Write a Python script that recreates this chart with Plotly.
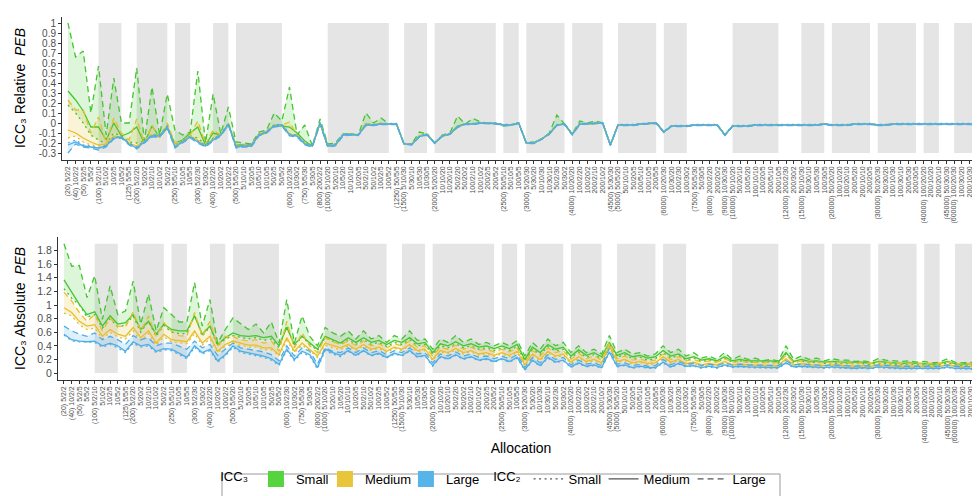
import plotly.graph_objects as go

FONT = "Liberation Sans, Arial, sans-serif"

TICK_LABELS = [
    "(20) 5/2/2", "(40) 10/2/2", "(50) 5/2/5", "5/5/2", "(100) 5/2/10", "5/10/2", "10/2/5", "10/5/2",
    "(125) 5/5/5", "(200) 5/2/20", "5/20/2", "10/2/10", "10/10/2", "50/2/2", "(250) 5/5/10", "5/10/5",
    "10/5/5", "(300) 5/2/30", "5/30/2", "(400) 10/2/20", "10/20/2", "100/2/2", "(500) 5/5/20", "5/10/10",
    "5/20/5", "10/5/10", "10/10/5", "50/2/5", "50/5/2", "(600) 10/2/30", "10/30/2", "(750) 5/5/30",
    "5/30/5", "(800) 200/2/2", "(1000) 5/10/20", "5/20/10", "10/5/20", "10/10/10", "10/20/5", "50/2/10",
    "50/10/2", "100/2/5", "100/5/2", "(1250) 50/5/5", "(1500) 5/10/30", "5/30/10", "10/5/30", "10/30/5",
    "(2000) 5/20/20", "10/10/20", "10/20/10", "50/2/20", "50/20/2", "100/2/10", "100/10/2", "200/2/5",
    "200/5/2", "(2500) 50/5/10", "50/10/5", "100/5/5", "(3000) 5/20/30", "5/30/20", "10/10/30", "10/30/10",
    "50/2/30", "50/30/2", "(4000) 10/20/20", "100/2/20", "100/20/2", "200/2/10", "200/10/2", "(4500) 5/30/30",
    "(5000) 50/5/20", "50/10/10", "50/20/5", "100/5/10", "100/10/5", "200/5/5", "(6000) 10/20/30", "10/30/20",
    "100/2/30", "100/30/2", "(7500) 50/5/30", "50/30/5", "(8000) 200/2/20", "200/20/2", "(9000) 10/30/30",
    "(10000) 50/10/20", "50/20/10", "100/5/20", "100/10/10", "100/20/5", "200/5/10", "200/10/5",
    "(12000) 200/2/30", "200/30/2", "(15000) 50/10/30", "50/30/10", "100/5/30", "100/30/5",
    "(20000) 50/20/20", "100/10/20", "100/20/10", "200/5/20", "200/10/10", "200/20/5",
    "(30000) 50/20/30", "50/30/20", "100/10/30", "100/30/10", "200/5/30", "200/30/5",
    "(40000) 100/20/20", "200/10/20", "200/20/10", "(45000) 50/30/30",
    "(60000) 100/20/30", "100/30/20", "200/10/30", "200/30/10",
]

# ---------------- Relative PEB (top panel) ----------------
# naming: rel_<ICC3 size>_<ICC2 size>, s/m/l = Small/Medium/Large
rel_s_s = [
    0.18, 0.1, 0.0, -0.12, -0.17, -0.21, -0.1, -0.13, -0.19, -0.2,
    -0.18, -0.11, -0.12, -0.03, -0.22, -0.18, -0.13, -0.15, -0.22, -0.15,
    -0.12, -0.01, -0.24, -0.23, -0.23, -0.12, -0.09, -0.03, -0.02, -0.12,
    -0.13, -0.21, -0.23, 0.0, -0.23, -0.22, -0.12, -0.115, -0.12, -0.02,
    -0.02, -0.01, -0.01, -0.01, -0.21, -0.215, -0.135, -0.115, -0.2, -0.13,
    -0.11, -0.04, -0.01, -0.01, 0.0, 0.0, -0.005, -0.02, -0.02, 0.0,
    -0.2, -0.2, -0.16, -0.11, -0.02, -0.01, -0.115, -0.01, -0.005, 0.0,
    0.0, -0.22, -0.02, -0.02, -0.02, -0.01, -0.005, 0.0, -0.09, -0.03,
    -0.03, -0.03, -0.02, -0.02, -0.02, -0.02, -0.12, -0.03, -0.03, -0.03,
    -0.02, -0.02, -0.02, -0.02, -0.02, -0.02, -0.02, -0.02, -0.02, -0.01,
    -0.02, -0.02, -0.02, -0.01, -0.01, -0.01, -0.02, -0.02, -0.01, -0.01,
    -0.01, -0.01, -0.01, -0.01, -0.01, -0.01, -0.01, -0.01, -0.01, -0.01,
]
rel_s_m = [
    0.32, 0.23, 0.12, -0.04, -0.04, -0.17, 0.0, -0.13, -0.1, -0.04,
    -0.2, -0.03, -0.14, -0.05, -0.2, -0.17, -0.1, -0.04, -0.22, -0.1,
    -0.12, -0.02, -0.22, -0.22, -0.22, -0.12, -0.1, -0.02, -0.03, -0.04,
    -0.1, -0.18, -0.23, 0.0, -0.23, -0.22, -0.12, -0.11, -0.12, -0.01,
    -0.02, -0.01, -0.01, -0.01, -0.21, -0.21, -0.13, -0.11, -0.2, -0.13,
    -0.11, -0.03, -0.01, -0.01, 0.0, 0.0, -0.005, -0.02, -0.02, 0.0,
    -0.2, -0.2, -0.16, -0.11, -0.02, -0.01, -0.115, -0.01, -0.005, 0.0,
    0.0, -0.22, -0.02, -0.02, -0.02, -0.01, -0.005, 0.0, -0.09, -0.03,
    -0.03, -0.03, -0.02, -0.02, -0.02, -0.02, -0.12, -0.03, -0.03, -0.03,
    -0.02, -0.02, -0.02, -0.02, -0.02, -0.02, -0.02, -0.02, -0.02, -0.01,
    -0.02, -0.02, -0.02, -0.01, -0.01, -0.01, -0.02, -0.02, -0.01, -0.01,
    -0.01, -0.01, -0.01, -0.01, -0.01, -0.01, -0.01, -0.01, -0.01, -0.01,
]
rel_s_l = [
    1.0, 0.66, 0.72, 0.1, 0.57, -0.12, 0.45, 0.0, 0.0, 0.55,
    -0.18, 0.36, -0.12, 0.29, -0.07, -0.12, -0.09, 0.52, -0.2, 0.29,
    -0.11, 0.16, -0.19, -0.2, -0.21, -0.09, -0.07, 0.1, 0.02, 0.36,
    -0.12, -0.02, -0.23, 0.04, -0.21, -0.2, -0.11, -0.11, -0.12, 0.1,
    0.0, 0.05, -0.01, -0.01, -0.21, -0.21, -0.09, -0.11, -0.2, -0.12,
    -0.1, 0.07, -0.01, 0.045, 0.01, 0.0, -0.005, -0.03, -0.02, 0.0,
    -0.2, -0.19, -0.16, -0.1, 0.08, -0.01, -0.11, 0.02, 0.0, 0.02,
    0.0, -0.22, -0.02, -0.02, -0.02, -0.01, -0.005, 0.0, -0.09, -0.03,
    -0.03, -0.03, -0.02, -0.02, -0.02, -0.02, -0.12, -0.03, -0.03, -0.03,
    -0.02, -0.02, -0.02, -0.02, -0.02, -0.02, -0.02, -0.02, -0.02, -0.01,
    -0.02, -0.02, -0.02, -0.01, -0.01, -0.01, -0.02, -0.02, -0.01, -0.01,
    -0.01, -0.01, -0.01, -0.01, -0.01, -0.01, -0.01, -0.01, -0.01, -0.01,
]
rel_m_s = [
    -0.15, -0.13, -0.19, -0.22, -0.23, -0.22, -0.14, -0.15, -0.21, -0.24,
    -0.18, -0.13, -0.13, -0.04, -0.24, -0.19, -0.14, -0.18, -0.23, -0.17,
    -0.12, -0.01, -0.24, -0.23, -0.23, -0.12, -0.09, -0.03, -0.02, -0.12,
    -0.13, -0.21, -0.23, 0.0, -0.23, -0.22, -0.12, -0.115, -0.12, -0.02,
    -0.02, -0.01, -0.01, -0.01, -0.21, -0.215, -0.135, -0.115, -0.2, -0.13,
    -0.11, -0.04, -0.01, -0.01, 0.0, 0.0, -0.005, -0.02, -0.02, 0.0,
    -0.2, -0.2, -0.16, -0.11, -0.02, -0.01, -0.115, -0.01, -0.005, 0.0,
    0.0, -0.22, -0.02, -0.02, -0.02, -0.01, -0.005, 0.0, -0.09, -0.03,
    -0.03, -0.03, -0.02, -0.02, -0.02, -0.02, -0.12, -0.03, -0.03, -0.03,
    -0.02, -0.02, -0.02, -0.02, -0.02, -0.02, -0.02, -0.02, -0.02, -0.01,
    -0.02, -0.02, -0.02, -0.01, -0.01, -0.01, -0.02, -0.02, -0.01, -0.01,
    -0.01, -0.01, -0.01, -0.01, -0.01, -0.01, -0.01, -0.01, -0.01, -0.01,
]
rel_m_m = [
    -0.07, -0.1, -0.15, -0.19, -0.22, -0.21, -0.13, -0.14, -0.2, -0.23,
    -0.18, -0.12, -0.13, -0.03, -0.23, -0.19, -0.13, -0.17, -0.23, -0.16,
    -0.12, -0.01, -0.24, -0.23, -0.23, -0.12, -0.09, -0.03, -0.02, -0.11,
    -0.13, -0.21, -0.23, 0.0, -0.23, -0.22, -0.12, -0.115, -0.12, -0.02,
    -0.02, -0.01, -0.01, -0.01, -0.21, -0.215, -0.135, -0.115, -0.2, -0.13,
    -0.11, -0.04, -0.01, -0.01, 0.0, 0.0, -0.005, -0.02, -0.02, 0.0,
    -0.2, -0.2, -0.16, -0.11, -0.02, -0.01, -0.115, -0.01, -0.005, 0.0,
    0.0, -0.22, -0.02, -0.02, -0.02, -0.01, -0.005, 0.0, -0.09, -0.03,
    -0.03, -0.03, -0.02, -0.02, -0.02, -0.02, -0.12, -0.03, -0.03, -0.03,
    -0.02, -0.02, -0.02, -0.02, -0.02, -0.02, -0.02, -0.02, -0.02, -0.01,
    -0.02, -0.02, -0.02, -0.01, -0.01, -0.01, -0.02, -0.02, -0.01, -0.01,
    -0.01, -0.01, -0.01, -0.01, -0.01, -0.01, -0.01, -0.01, -0.01, -0.01,
]
rel_m_l = [
    0.23, 0.13, 0.13, -0.1, 0.06, -0.2, 0.05, -0.1, -0.17, 0.04,
    -0.2, -0.02, -0.15, 0.0, -0.2, -0.18, -0.12, 0.02, -0.21, -0.07,
    -0.12, 0.0, -0.22, -0.22, -0.22, -0.11, -0.08, -0.02, -0.02, 0.01,
    -0.12, -0.2, -0.23, 0.0, -0.23, -0.22, -0.12, -0.11, -0.12, 0.0,
    -0.02, 0.0, -0.01, -0.01, -0.21, -0.21, -0.13, -0.11, -0.2, -0.13,
    -0.11, -0.04, -0.01, -0.01, 0.0, 0.0, -0.005, -0.02, -0.02, 0.0,
    -0.2, -0.2, -0.16, -0.11, -0.02, -0.01, -0.115, -0.01, -0.005, 0.0,
    0.0, -0.22, -0.02, -0.02, -0.02, -0.01, -0.005, 0.0, -0.09, -0.03,
    -0.03, -0.03, -0.02, -0.02, -0.02, -0.02, -0.12, -0.03, -0.03, -0.03,
    -0.02, -0.02, -0.02, -0.02, -0.02, -0.02, -0.02, -0.02, -0.02, -0.01,
    -0.02, -0.02, -0.02, -0.01, -0.01, -0.01, -0.02, -0.02, -0.01, -0.01,
    -0.01, -0.01, -0.01, -0.01, -0.01, -0.01, -0.01, -0.01, -0.01, -0.01,
]
rel_l_s = [
    -0.2, -0.17, -0.22, -0.23, -0.25, -0.22, -0.14, -0.14, -0.2, -0.24,
    -0.18, -0.12, -0.12, -0.03, -0.23, -0.18, -0.13, -0.18, -0.22, -0.16,
    -0.11, 0.0, -0.23, -0.22, -0.22, -0.11, -0.08, -0.02, -0.01, -0.11,
    -0.12, -0.2, -0.22, 0.01, -0.22, -0.21, -0.11, -0.11, -0.115, -0.015,
    -0.015, -0.005, -0.005, -0.005, -0.205, -0.21, -0.13, -0.11, -0.195, -0.125,
    -0.105, -0.035, -0.005, -0.005, 0.005, 0.005, 0.0, -0.015, -0.015, 0.005,
    -0.195, -0.195, -0.155, -0.105, -0.015, -0.005, -0.11, -0.005, 0.0, 0.005,
    0.005, -0.215, -0.015, -0.015, -0.015, -0.005, 0.0, 0.005, -0.085, -0.025,
    -0.025, -0.025, -0.015, -0.015, -0.015, -0.015, -0.115, -0.025, -0.025, -0.025,
    -0.015, -0.015, -0.015, -0.015, -0.015, -0.015, -0.015, -0.015, -0.015, -0.005,
    -0.015, -0.015, -0.015, -0.005, -0.005, -0.005, -0.015, -0.015, -0.005, -0.005,
    -0.005, -0.005, -0.005, -0.005, -0.005, -0.005, -0.005, -0.005, -0.005, -0.005,
]
rel_l_m = [
    -0.22, -0.19, -0.23, -0.24, -0.25, -0.23, -0.15, -0.14, -0.21, -0.25,
    -0.19, -0.13, -0.13, -0.04, -0.24, -0.19, -0.14, -0.19, -0.23, -0.17,
    -0.12, -0.01, -0.24, -0.23, -0.23, -0.12, -0.09, -0.03, -0.02, -0.12,
    -0.13, -0.21, -0.23, 0.0, -0.23, -0.22, -0.12, -0.115, -0.12, -0.02,
    -0.02, -0.01, -0.01, -0.01, -0.21, -0.215, -0.135, -0.115, -0.2, -0.13,
    -0.11, -0.04, -0.01, -0.01, 0.0, 0.0, -0.005, -0.02, -0.02, 0.0,
    -0.2, -0.2, -0.16, -0.11, -0.02, -0.01, -0.115, -0.01, -0.005, 0.0,
    0.0, -0.22, -0.02, -0.02, -0.02, -0.01, -0.005, 0.0, -0.09, -0.03,
    -0.03, -0.03, -0.02, -0.02, -0.02, -0.02, -0.12, -0.03, -0.03, -0.03,
    -0.02, -0.02, -0.02, -0.02, -0.02, -0.02, -0.02, -0.02, -0.02, -0.01,
    -0.02, -0.02, -0.02, -0.01, -0.01, -0.01, -0.02, -0.02, -0.01, -0.01,
    -0.01, -0.01, -0.01, -0.01, -0.01, -0.01, -0.01, -0.01, -0.01, -0.01,
]
rel_l_l = [
    -0.3, -0.21, -0.24, -0.25, -0.27, -0.24, -0.16, -0.15, -0.22, -0.26,
    -0.2, -0.14, -0.14, -0.05, -0.25, -0.2, -0.15, -0.2, -0.24, -0.18,
    -0.13, -0.02, -0.25, -0.24, -0.24, -0.13, -0.1, -0.04, -0.03, -0.13,
    -0.14, -0.22, -0.24, -0.01, -0.24, -0.23, -0.13, -0.12, -0.125, -0.025,
    -0.025, -0.015, -0.015, -0.015, -0.215, -0.22, -0.14, -0.12, -0.205, -0.135,
    -0.115, -0.045, -0.015, -0.015, -0.005, -0.005, -0.01, -0.025, -0.025, -0.005,
    -0.205, -0.205, -0.165, -0.115, -0.025, -0.015, -0.12, -0.015, -0.01, -0.005,
    -0.005, -0.225, -0.025, -0.025, -0.025, -0.015, -0.01, -0.005, -0.095, -0.035,
    -0.035, -0.035, -0.025, -0.025, -0.025, -0.025, -0.125, -0.035, -0.035, -0.035,
    -0.025, -0.025, -0.025, -0.025, -0.025, -0.025, -0.025, -0.025, -0.025, -0.015,
    -0.025, -0.025, -0.025, -0.015, -0.015, -0.015, -0.025, -0.025, -0.015, -0.015,
    -0.015, -0.015, -0.015, -0.015, -0.015, -0.015, -0.015, -0.015, -0.015, -0.015,
]

# ---------------- Absolute PEB (bottom panel) ----------------
abs_s_s = [
    1.24, 1.1, 1.0, 0.82, 0.86, 0.66, 0.8, 0.68, 0.7, 0.84,
    0.6, 0.76, 0.54, 0.7, 0.6, 0.58, 0.58, 0.86, 0.54, 0.68,
    0.4, 0.5, 0.55, 0.52, 0.5, 0.52, 0.48, 0.5, 0.37, 0.7,
    0.39, 0.54, 0.42, 0.33, 0.52, 0.47, 0.42, 0.49, 0.42, 0.49,
    0.42, 0.45, 0.39, 0.45, 0.42, 0.49, 0.4, 0.42, 0.27, 0.4,
    0.37, 0.43, 0.37, 0.4, 0.35, 0.37, 0.33, 0.37, 0.33, 0.39,
    0.17, 0.35, 0.27, 0.39, 0.32, 0.35, 0.22, 0.31, 0.23, 0.27,
    0.21, 0.42, 0.23, 0.27, 0.21, 0.23, 0.19, 0.21, 0.3, 0.22,
    0.26, 0.19, 0.22, 0.17, 0.19, 0.16, 0.22, 0.16, 0.18, 0.16,
    0.16, 0.15, 0.16, 0.14, 0.28, 0.15, 0.18, 0.15, 0.16, 0.14,
    0.15, 0.14, 0.14, 0.13, 0.14, 0.12, 0.15, 0.14, 0.13, 0.12,
    0.13, 0.12, 0.12, 0.11, 0.12, 0.15, 0.12, 0.11, 0.12, 0.1,
]
abs_s_m = [
    1.37, 1.18, 1.01, 0.86, 0.9, 0.69, 0.84, 0.72, 0.74, 0.86,
    0.64, 0.76, 0.57, 0.72, 0.64, 0.62, 0.62, 0.84, 0.57, 0.69,
    0.42, 0.52, 0.59, 0.55, 0.54, 0.55, 0.52, 0.54, 0.4, 0.67,
    0.42, 0.54, 0.44, 0.35, 0.54, 0.49, 0.44, 0.52, 0.45, 0.52,
    0.45, 0.48, 0.42, 0.48, 0.45, 0.52, 0.43, 0.45, 0.3, 0.43,
    0.4, 0.46, 0.4, 0.43, 0.38, 0.4, 0.36, 0.4, 0.36, 0.42,
    0.2, 0.38, 0.3, 0.42, 0.35, 0.38, 0.25, 0.34, 0.26, 0.3,
    0.24, 0.45, 0.26, 0.3, 0.24, 0.26, 0.22, 0.24, 0.33, 0.25,
    0.28, 0.21, 0.24, 0.19, 0.21, 0.18, 0.24, 0.18, 0.2, 0.18,
    0.18, 0.17, 0.18, 0.16, 0.3, 0.17, 0.2, 0.17, 0.18, 0.16,
    0.17, 0.16, 0.16, 0.15, 0.16, 0.14, 0.17, 0.16, 0.15, 0.14,
    0.15, 0.14, 0.14, 0.13, 0.14, 0.17, 0.14, 0.13, 0.14, 0.12,
]
abs_s_l = [
    1.9, 1.57, 1.58, 1.11, 1.43, 0.79, 1.28, 0.86, 0.91, 1.35,
    0.72, 1.16, 0.62, 0.96, 0.86, 0.75, 0.75, 1.33, 0.69, 1.08,
    0.44, 0.64, 0.81, 0.72, 0.64, 0.72, 0.59, 0.75, 0.44, 1.08,
    0.44, 0.84, 0.54, 0.4, 0.67, 0.59, 0.54, 0.62, 0.5, 0.62,
    0.5, 0.55, 0.45, 0.55, 0.5, 0.62, 0.48, 0.5, 0.35, 0.5,
    0.45, 0.55, 0.45, 0.5, 0.42, 0.45, 0.4, 0.45, 0.4, 0.48,
    0.25, 0.45, 0.35, 0.5, 0.4, 0.45, 0.3, 0.4, 0.3, 0.35,
    0.28, 0.55, 0.3, 0.35, 0.28, 0.3, 0.25, 0.28, 0.4, 0.3,
    0.35, 0.25, 0.3, 0.22, 0.25, 0.2, 0.3, 0.2, 0.25, 0.2,
    0.22, 0.18, 0.2, 0.18, 0.4, 0.2, 0.25, 0.2, 0.22, 0.18,
    0.21, 0.19, 0.19, 0.17, 0.18, 0.16, 0.21, 0.19, 0.18, 0.17,
    0.18, 0.16, 0.17, 0.15, 0.16, 0.21, 0.16, 0.15, 0.16, 0.14,
]
abs_m_s = [
    0.88, 0.84, 0.71, 0.64, 0.66, 0.5, 0.6, 0.53, 0.5, 0.62,
    0.48, 0.58, 0.41, 0.53, 0.46, 0.44, 0.43, 0.58, 0.41, 0.5,
    0.3, 0.39, 0.44, 0.41, 0.38, 0.38, 0.34, 0.34, 0.25, 0.48,
    0.3, 0.41, 0.33, 0.23, 0.41, 0.37, 0.34, 0.4, 0.33, 0.4,
    0.33, 0.36, 0.3, 0.36, 0.33, 0.4, 0.31, 0.33, 0.18, 0.31,
    0.28, 0.34, 0.28, 0.31, 0.26, 0.28, 0.24, 0.28, 0.24, 0.3,
    0.1, 0.26, 0.18, 0.3, 0.23, 0.26, 0.14, 0.22, 0.15, 0.18,
    0.13, 0.37, 0.15, 0.18, 0.13, 0.15, 0.12, 0.13, 0.22, 0.14,
    0.18, 0.12, 0.14, 0.1, 0.12, 0.1, 0.15, 0.1, 0.11, 0.1,
    0.1, 0.09, 0.1, 0.09, 0.19, 0.1, 0.12, 0.1, 0.1, 0.09,
    0.1, 0.09, 0.09, 0.08, 0.09, 0.08, 0.1, 0.09, 0.08, 0.08,
    0.08, 0.08, 0.08, 0.07, 0.08, 0.1, 0.08, 0.07, 0.08, 0.06,
]
abs_m_m = [
    0.96, 0.89, 0.76, 0.69, 0.71, 0.54, 0.64, 0.57, 0.54, 0.67,
    0.52, 0.62, 0.44, 0.57, 0.49, 0.47, 0.46, 0.62, 0.44, 0.54,
    0.32, 0.42, 0.47, 0.44, 0.41, 0.41, 0.37, 0.37, 0.27, 0.52,
    0.32, 0.44, 0.35, 0.25, 0.44, 0.4, 0.37, 0.42, 0.35, 0.42,
    0.35, 0.38, 0.32, 0.38, 0.35, 0.42, 0.33, 0.35, 0.2, 0.33,
    0.3, 0.36, 0.3, 0.33, 0.28, 0.3, 0.26, 0.3, 0.26, 0.32,
    0.12, 0.28, 0.2, 0.32, 0.25, 0.28, 0.16, 0.24, 0.17, 0.2,
    0.15, 0.4, 0.17, 0.2, 0.15, 0.17, 0.14, 0.15, 0.24, 0.16,
    0.2, 0.14, 0.16, 0.12, 0.14, 0.12, 0.17, 0.12, 0.13, 0.12,
    0.12, 0.11, 0.12, 0.11, 0.21, 0.12, 0.14, 0.12, 0.12, 0.11,
    0.12, 0.11, 0.11, 0.1, 0.11, 0.1, 0.12, 0.11, 0.1, 0.1,
    0.1, 0.1, 0.1, 0.09, 0.1, 0.12, 0.1, 0.09, 0.1, 0.08,
]
abs_m_l = [
    1.19, 1.06, 0.89, 0.76, 0.86, 0.62, 0.81, 0.69, 0.68, 0.9,
    0.62, 0.84, 0.54, 0.74, 0.62, 0.55, 0.54, 0.89, 0.55, 0.76,
    0.4, 0.54, 0.54, 0.49, 0.47, 0.49, 0.44, 0.47, 0.32, 0.76,
    0.37, 0.59, 0.4, 0.3, 0.52, 0.46, 0.42, 0.47, 0.4, 0.47,
    0.4, 0.43, 0.37, 0.43, 0.4, 0.47, 0.38, 0.4, 0.25, 0.38,
    0.35, 0.41, 0.35, 0.38, 0.33, 0.35, 0.31, 0.35, 0.31, 0.37,
    0.15, 0.33, 0.25, 0.37, 0.3, 0.33, 0.2, 0.29, 0.21, 0.25,
    0.19, 0.45, 0.21, 0.25, 0.19, 0.21, 0.17, 0.19, 0.28, 0.2,
    0.24, 0.18, 0.2, 0.16, 0.18, 0.16, 0.21, 0.16, 0.17, 0.16,
    0.16, 0.15, 0.16, 0.15, 0.26, 0.16, 0.18, 0.16, 0.16, 0.15,
    0.16, 0.15, 0.15, 0.14, 0.15, 0.14, 0.16, 0.15, 0.14, 0.14,
    0.14, 0.14, 0.14, 0.13, 0.14, 0.16, 0.14, 0.13, 0.14, 0.12,
]
abs_l_s = [
    0.56, 0.47, 0.46, 0.45, 0.45, 0.38, 0.42, 0.37, 0.3, 0.44,
    0.38, 0.4, 0.3, 0.34, 0.33, 0.27, 0.21, 0.38, 0.28, 0.33,
    0.16, 0.25, 0.38, 0.3, 0.28, 0.25, 0.23, 0.19, 0.11, 0.33,
    0.18, 0.3, 0.25, 0.06, 0.33, 0.28, 0.24, 0.32, 0.25, 0.32,
    0.25, 0.28, 0.22, 0.28, 0.25, 0.32, 0.23, 0.25, 0.1, 0.23,
    0.2, 0.26, 0.2, 0.23, 0.18, 0.2, 0.16, 0.2, 0.16, 0.22,
    0.04, 0.18, 0.1, 0.22, 0.15, 0.18, 0.08, 0.14, 0.09, 0.11,
    0.07, 0.3, 0.09, 0.11, 0.07, 0.09, 0.07, 0.07, 0.15, 0.08,
    0.13, 0.09, 0.1, 0.07, 0.09, 0.07, 0.11, 0.08, 0.09, 0.08,
    0.08, 0.07, 0.08, 0.07, 0.14, 0.08, 0.09, 0.08, 0.08, 0.07,
    0.08, 0.07, 0.07, 0.06, 0.07, 0.06, 0.08, 0.07, 0.07, 0.06,
    0.06, 0.06, 0.06, 0.06, 0.06, 0.08, 0.06, 0.06, 0.06, 0.05,
]
abs_l_m = [
    0.57, 0.49, 0.47, 0.46, 0.47, 0.4, 0.44, 0.4, 0.32, 0.46,
    0.4, 0.42, 0.32, 0.36, 0.35, 0.29, 0.23, 0.4, 0.3, 0.35,
    0.18, 0.27, 0.4, 0.32, 0.3, 0.27, 0.25, 0.21, 0.13, 0.35,
    0.2, 0.32, 0.27, 0.08, 0.35, 0.3, 0.26, 0.33, 0.26, 0.33,
    0.26, 0.29, 0.23, 0.29, 0.26, 0.33, 0.24, 0.26, 0.11, 0.24,
    0.21, 0.27, 0.21, 0.24, 0.19, 0.21, 0.17, 0.21, 0.17, 0.23,
    0.05, 0.19, 0.11, 0.23, 0.16, 0.19, 0.09, 0.15, 0.1, 0.12,
    0.08, 0.31, 0.1, 0.12, 0.08, 0.1, 0.08, 0.08, 0.16, 0.09,
    0.14, 0.1, 0.11, 0.08, 0.1, 0.08, 0.12, 0.09, 0.1, 0.09,
    0.09, 0.08, 0.09, 0.08, 0.15, 0.09, 0.1, 0.09, 0.09, 0.08,
    0.09, 0.08, 0.08, 0.07, 0.08, 0.07, 0.09, 0.08, 0.08, 0.07,
    0.07, 0.07, 0.07, 0.07, 0.07, 0.09, 0.07, 0.07, 0.07, 0.06,
]
abs_l_l = [
    0.69, 0.62, 0.57, 0.54, 0.59, 0.49, 0.54, 0.49, 0.42, 0.55,
    0.49, 0.52, 0.4, 0.44, 0.44, 0.4, 0.35, 0.47, 0.37, 0.42,
    0.26, 0.35, 0.44, 0.37, 0.35, 0.34, 0.31, 0.27, 0.18, 0.4,
    0.25, 0.37, 0.32, 0.13, 0.37, 0.32, 0.3, 0.37, 0.3, 0.37,
    0.3, 0.33, 0.27, 0.33, 0.3, 0.37, 0.28, 0.3, 0.15, 0.28,
    0.25, 0.31, 0.25, 0.28, 0.23, 0.25, 0.21, 0.25, 0.21, 0.27,
    0.08, 0.23, 0.15, 0.27, 0.2, 0.23, 0.12, 0.19, 0.13, 0.15,
    0.11, 0.36, 0.13, 0.15, 0.11, 0.13, 0.1, 0.11, 0.2, 0.12,
    0.17, 0.13, 0.14, 0.11, 0.13, 0.11, 0.15, 0.12, 0.13, 0.12,
    0.12, 0.11, 0.12, 0.11, 0.18, 0.12, 0.13, 0.12, 0.12, 0.11,
    0.12, 0.11, 0.11, 0.1, 0.11, 0.1, 0.12, 0.11, 0.11, 0.1,
    0.1, 0.1, 0.1, 0.1, 0.1, 0.12, 0.1, 0.1, 0.1, 0.09,
]

ICC3_NAMES = ["Small", "Medium", "Large"]
ICC2_NAMES = ["Small", "Medium", "Large"]
ICC3_COLORS = ["#46C431", "#E6BF2E", "#4FAEE6"]
ICC3_KEY_COLORS = ["#55D43F", "#E8C53A", "#56B4E9"]
ICC3_FILLS = ["rgba(85,212,63,0.20)", "rgba(232,197,58,0.20)", "rgba(86,180,233,0.20)"]
ICC2_DASHES = ["2px,3.5px", "solid", "6px,4px"]
# legend entry widths (px) so the keys sit as tightly as in the reference
ICC3_ENTRY_W = [24, 36, 34]
ICC2_ENTRY_W = [30, 44, 34]

REL = [[rel_s_s, rel_s_m, rel_s_l], [rel_m_s, rel_m_m, rel_m_l], [rel_l_s, rel_l_m, rel_l_l]]
ABS = [[abs_s_s, abs_s_m, abs_s_l], [abs_m_s, abs_m_m, abs_m_l], [abs_l_s, abs_l_m, abs_l_l]]

fig = go.Figure()

for panel, xa, ya in [(REL, "x", "y"), (ABS, "x2", "y2")]:
    # ribbons (min..max across the ICC2 line types)
    for k in range(3):
        series = panel[k]
        lo = [min(v) for v in zip(*series)]
        hi = [max(v) for v in zip(*series)]
        fig.add_trace(go.Scatter(x=TICK_LABELS, y=lo, mode="lines", line=dict(width=0),
                                 showlegend=False, hoverinfo="skip", xaxis=xa, yaxis=ya))
        fig.add_trace(go.Scatter(x=TICK_LABELS, y=hi, mode="lines", line=dict(width=0),
                                 fill="tonexty", fillcolor=ICC3_FILLS[k],
                                 showlegend=False, hoverinfo="skip", xaxis=xa, yaxis=ya))
    for k in range(3):
        for j in range(3):
            fig.add_trace(go.Scatter(
                x=TICK_LABELS, y=panel[k][j], mode="lines",
                line=dict(color=ICC3_COLORS[k], width=1.3, dash=ICC2_DASHES[j]),
                name=f"ICC3 {ICC3_NAMES[k]} / ICC2 {ICC2_NAMES[j]}",
                showlegend=False, xaxis=xa, yaxis=ya))

# legend entries
for k in range(3):
    fig.add_trace(go.Scatter(x=[None], y=[None], mode="markers",
                             marker=dict(symbol="square", size=16, color=ICC3_KEY_COLORS[k]),
                             name=ICC3_NAMES[k], legend="legend", showlegend=True,
                             legendwidth=ICC3_ENTRY_W[k]))
for j in range(3):
    fig.add_trace(go.Scatter(x=[None], y=[None], mode="lines",
                             line=dict(color="#555555", width=1.2, dash=ICC2_DASHES[j]),
                             name=ICC2_NAMES[j], legend="legend2", showlegend=True,
                             legendwidth=ICC2_ENTRY_W[j]))

# grey bands for allocation groups (total sample size) with 3+ allocations
group_starts = [i for i, t in enumerate(TICK_LABELS) if t.startswith("(")] + [len(TICK_LABELS)]
shapes = []
for panel, xa, ya, y_lo in [(REL, "x", "y", None), (ABS, "x2", "y2", 0.0)]:
    allv = [v for grp in panel for s in grp for v in s]
    ymin = min(allv) if y_lo is None else y_lo
    ymax = max(allv)
    for a, b in zip(group_starts[:-1], group_starts[1:]):
        if b - a >= 3:
            shapes.append(dict(type="rect", xref=xa, yref=ya, x0=a, x1=b - 1, y0=ymin, y1=ymax,
                               fillcolor="#E5E5E5", line=dict(width=0), layer="below"))

W, H = 980, 496
xcommon = dict(type="category", categoryorder="array", categoryarray=TICK_LABELS,
               tickmode="linear", tick0=0, dtick=1, tickangle=-90,
               tickfont=dict(size=7, color="#4d4d4d", family=FONT),
               ticks="outside", ticklen=3, tickcolor="#333333", tickwidth=0.7,
               showline=True, linecolor="#333333", linewidth=1, showgrid=False, zeroline=False,
               range=[-0.78, 119.78], automargin=False)
ycommon = dict(ticks="outside", ticklen=3, tickcolor="#333333", tickwidth=0.8,
               showline=True, linecolor="#333333", linewidth=1, showgrid=False, zeroline=False,
               automargin=False, tickmode="array")

rel_ticks = [round(-0.3 + 0.1 * i, 1) for i in range(14)]
abs_ticks = [round(0.2 * i, 1) for i in range(10)]

fig.update_layout(
    width=W, height=H,
    margin=dict(l=0, r=0, t=0, b=0),
    paper_bgcolor="white", plot_bgcolor="white",
    font=dict(family=FONT, color="#000000"),
    shapes=shapes + [dict(type="rect", xref="paper", yref="paper",
                          x0=214 / W, x1=772 / W, y0=1 - 493 / H, y1=1 - 466 / H,
                          line=dict(color="#9a9a9a", width=1), fillcolor="rgba(0,0,0,0)")],
    xaxis=dict(xcommon, domain=[54 / W, 975 / W], anchor="y"),
    yaxis=dict(ycommon, domain=[1 - 151.5 / H, 1 - 8.5 / H], anchor="x",
               range=[-0.365, 1.065], tickvals=rel_ticks,
               ticktext=[f"{v:g}" for v in rel_ticks],
               tickfont=dict(size=10, color="#4d4d4d", family=FONT),
               title=dict(text="ICC₃ Relative  <i>PEB</i>", font=dict(size=14), standoff=9)),
    xaxis2=dict(xcommon, domain=[50 / W, 976 / W], anchor="y2",
                title=dict(text="Allocation", font=dict(size=14), standoff=0)),
    yaxis2=dict(ycommon, domain=[1 - 371.5 / H, 1 - 229.3 / H], anchor="x2",
                range=[-0.095, 1.995], tickvals=abs_ticks,
                ticktext=[f"{v:g}" for v in abs_ticks],
                tickfont=dict(size=10.5, color="#4d4d4d", family=FONT),
                title=dict(text="ICC₃ Absolute  <i>PEB</i>", font=dict(size=14), standoff=8)),
    legend=dict(title=dict(text="ICC₃", font=dict(size=13)), orientation="h",
                x=0.487, xanchor="right", y=1 - 471 / H, yanchor="middle",
                font=dict(size=13), bgcolor="rgba(0,0,0,0)", itemwidth=30, traceorder="normal"),
    legend2=dict(title=dict(text="ICC₂", font=dict(size=13)), orientation="h",
                 x=0.493, xanchor="left", y=1 - 471 / H, yanchor="middle",
                 font=dict(size=13), bgcolor="rgba(0,0,0,0)", itemwidth=30, traceorder="normal"),
)

fig.write_html("out.html")
